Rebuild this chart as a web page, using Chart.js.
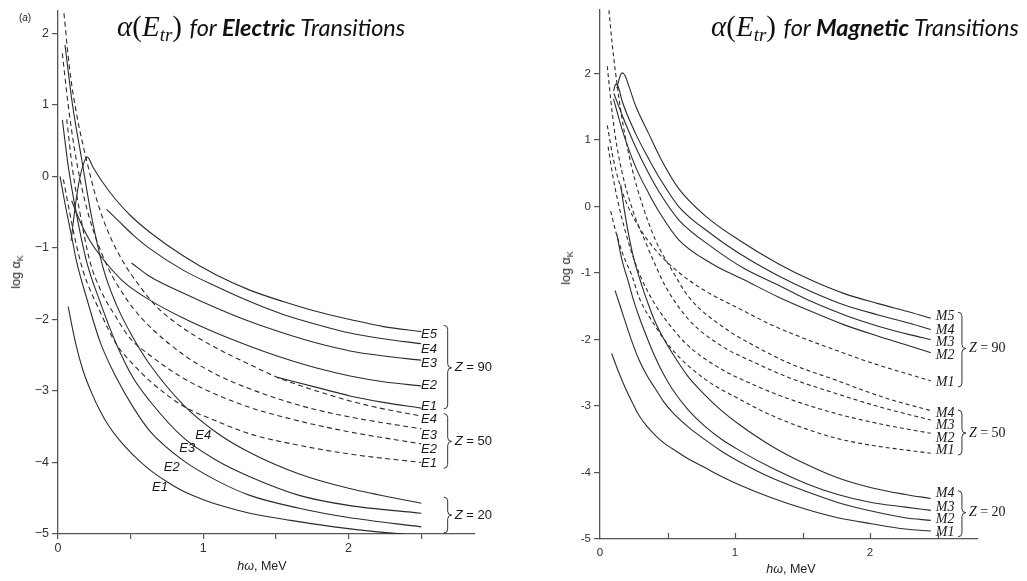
<!DOCTYPE html>
<html><head><meta charset="utf-8">
<script src="https://cdn.jsdelivr.net/npm/chart.js@4.4.1/dist/chart.umd.min.js"></script>
<style>
html,body{margin:0;padding:0;background:#fff;width:1027px;height:581px;overflow:hidden;position:relative;}
#lw{position:absolute;left:0;top:0;width:520px;height:581px;}
#rw{position:absolute;left:530px;top:0;width:497px;height:581px;}
.title{position:absolute;white-space:nowrap;font-family:Lato,'Open Sans',sans-serif;font-style:italic;font-size:23.5px;line-height:32px;color:#111;}
.math{font-family:'Liberation Serif','DejaVu Serif',serif;font-size:29px;font-style:italic;margin-right:2px;}
.math .up{font-style:normal;}
.math sub{font-size:19px;vertical-align:-5px;line-height:0;}
.axt{position:absolute;white-space:nowrap;font-family:'Liberation Sans',Arial,sans-serif;font-size:12.5px;color:#222;}
.axt sub{font-size:9px;vertical-align:-3px;line-height:0;}
.rot{transform:translate(-50%,-50%) rotate(-90deg);}
.ctr{transform:translate(-50%,-50%);}
</style></head>
<body>
<div id="lw"><canvas id="cl" width="520" height="581"></canvas></div>
<div id="rw"><canvas id="cr" width="497" height="581"></canvas></div>
<div class="title" style="left:117px;top:10px"><span class="math">α<span class="up">(</span>E<sub>tr</sub><span class="up">)</span></span> for <b>Electric</b> Transitions</div>
<div class="title" style="left:711px;top:10px"><span class="math">α<span class="up">(</span>E<sub>tr</sub><span class="up">)</span></span> for <b>Magnetic</b> Transitions</div>
<div class="axt ctr" style="left:25px;top:17px;font-size:10px">(<i>a</i>)</div>
<div class="axt rot" style="left:16px;top:272px">log α<sub>K</sub></div>
<div class="axt rot" style="left:566px;top:268px">log α<sub>K</sub></div>
<div class="axt ctr" style="left:262px;top:566px"><i>hω</i>, MeV</div>
<div class="axt ctr" style="left:791px;top:569px"><i>hω</i>, MeV</div>
<script>
// ---------- Electric transitions (left panel): [hω MeV, log αK] ----------
const eZ90E5 = [[0.09,-0.9],[0.12,-0.4],[0.15,-0.02],[0.18,0.2],[0.202,0.27],[0.243,0.12],[0.3,-0.06],[0.4,-0.33],[0.5,-0.55],[0.632,-0.78],[0.861,-1.11],[1.09,-1.38],[1.32,-1.59],[1.55,-1.75],[1.78,-1.89],[2.01,-2.0],[2.24,-2.1],[2.5,-2.17]];
const eZ90E4 = [[0.335,-0.46],[0.42,-0.63],[0.518,-0.82],[0.632,-1.01],[0.861,-1.31],[1.09,-1.54],[1.32,-1.75],[1.55,-1.93],[1.78,-2.07],[2.01,-2.19],[2.24,-2.27],[2.5,-2.34]];
const eZ90E3 = [[0.506,-1.21],[0.632,-1.40],[0.861,-1.63],[1.09,-1.84],[1.32,-2.03],[1.55,-2.19],[1.78,-2.33],[2.01,-2.44],[2.24,-2.51],[2.5,-2.57]];
const eZ90E2 = [[0.094,-0.34],[0.15,-0.62],[0.22,-0.9],[0.323,-1.19],[0.45,-1.47],[0.632,-1.73],[0.861,-1.98],[1.09,-2.19],[1.32,-2.375],[1.55,-2.54],[1.78,-2.68],[2.01,-2.79],[2.24,-2.87],[2.5,-2.93]];
const eZ90E1 = [[1.51,-2.81],[1.78,-2.95],[2.01,-3.07],[2.24,-3.16],[2.5,-3.24]];
const eZ50E4 = [[0.041,2.28],[0.08,1.5],[0.13,0.85],[0.2,0.2],[0.27,-0.35],[0.35,-0.8],[0.45,-1.2],[0.55,-1.5],[0.678,-1.82],[0.861,-2.12],[1.09,-2.4],[1.32,-2.63],[1.51,-2.81],[1.78,-3.0],[2.01,-3.14],[2.24,-3.25],[2.5,-3.35]];
const eZ50E3 = [[0.03,1.72],[0.07,1.0],[0.12,0.3],[0.18,-0.3],[0.25,-0.8],[0.35,-1.3],[0.45,-1.65],[0.52,-1.85],[0.632,-2.1],[0.861,-2.49],[1.09,-2.77],[1.32,-2.97],[1.66,-3.2],[2.0,-3.36],[2.5,-3.53]];
const eZ50E2 = [[0.06,0.8],[0.1,0.1],[0.15,-0.5],[0.22,-1.19],[0.289,-1.57],[0.403,-1.98],[0.495,-2.26],[0.632,-2.5],[0.861,-2.82],[1.09,-3.05],[1.32,-3.23],[1.66,-3.42],[2.0,-3.57],[2.5,-3.74]];
const eZ50E1 = [[0.037,-0.04],[0.08,-0.5],[0.12,-0.9],[0.174,-1.33],[0.289,-1.89],[0.403,-2.35],[0.518,-2.63],[0.632,-2.86],[0.861,-3.21],[1.09,-3.42],[1.32,-3.6],[1.66,-3.76],[2.0,-3.88],[2.5,-4.0]];
const eZ20E4 = [[0.048,1.84],[0.1,1.0],[0.163,0.24],[0.23,-0.55],[0.312,-1.29],[0.403,-1.8],[0.518,-2.26],[0.632,-2.63],[0.861,-3.19],[1.09,-3.58],[1.32,-3.86],[1.66,-4.16],[2.0,-4.36],[2.5,-4.57]];
const eZ20E3 = [[0.03,0.79],[0.07,0.15],[0.12,-0.45],[0.197,-1.19],[0.289,-1.75],[0.403,-2.35],[0.518,-2.82],[0.632,-3.14],[0.861,-3.65],[1.09,-3.97],[1.32,-4.2],[1.66,-4.46],[2.0,-4.6],[2.5,-4.71]];
const eZ20E2 = [[0.014,0.0],[0.05,-0.4],[0.09,-0.8],[0.128,-1.19],[0.197,-1.7],[0.289,-2.31],[0.403,-2.82],[0.518,-3.23],[0.632,-3.56],[0.861,-3.97],[1.09,-4.25],[1.32,-4.46],[1.66,-4.64],[2.0,-4.77],[2.5,-4.9]];
const eZ20E1 = [[0.07,-1.82],[0.12,-2.32],[0.17,-2.7],[0.23,-3.02],[0.29,-3.28],[0.35,-3.49],[0.42,-3.68],[0.52,-3.9],[0.63,-4.1],[0.75,-4.27],[0.86,-4.4],[1.0,-4.52],[1.15,-4.62],[1.32,-4.71],[1.6,-4.81],[1.9,-4.9],[2.2,-4.97],[2.38,-5.0]];

// ---------- Magnetic transitions (right panel) ----------
const mZ90M5 = [[0.125,1.78],[0.15,1.97],[0.165,2.01],[0.185,1.97],[0.214,1.81],[0.263,1.52],[0.36,1.1],[0.45,0.72],[0.583,0.27],[0.78,-0.14],[1.026,-0.5],[1.32,-0.86],[1.567,-1.11],[1.81,-1.31],[2.06,-1.46],[2.3,-1.59],[2.45,-1.68]];
const mZ90M4 = [[0.1,1.74],[0.118,1.84],[0.135,1.8],[0.165,1.58],[0.263,1.1],[0.36,0.72],[0.45,0.4],[0.583,0.0],[0.829,-0.42],[1.075,-0.76],[1.32,-1.04],[1.567,-1.28],[1.81,-1.48],[2.06,-1.63],[2.3,-1.76],[2.45,-1.85]];
const mZ90M3 = [[0.103,1.7],[0.165,1.37],[0.263,0.9],[0.36,0.5],[0.45,0.18],[0.583,-0.2],[0.829,-0.61],[1.075,-0.94],[1.32,-1.18],[1.567,-1.43],[1.81,-1.63],[2.06,-1.8],[2.3,-1.93],[2.45,-2.0]];
const mZ90M2 = [[0.1,1.62],[0.165,1.15],[0.263,0.6],[0.36,0.2],[0.45,-0.12],[0.583,-0.5],[0.829,-0.86],[1.075,-1.11],[1.32,-1.36],[1.567,-1.58],[1.81,-1.78],[2.06,-1.95],[2.3,-2.1],[2.45,-2.2]];
const mZ90M1 = [[0.054,1.22],[0.1,0.7],[0.165,0.22],[0.263,-0.22],[0.41,-0.65],[0.583,-0.99],[0.78,-1.27],[1.026,-1.53],[1.27,-1.78],[1.52,-1.99],[1.76,-2.17],[2.01,-2.35],[2.25,-2.5],[2.45,-2.62]];
const mZ50M4 = [[0.066,2.95],[0.09,2.45],[0.116,2.0],[0.165,1.3],[0.24,0.55],[0.31,0.05],[0.41,-0.5],[0.534,-0.96],[0.657,-1.36],[0.903,-1.8],[1.149,-2.1],[1.395,-2.35],[1.76,-2.62],[2.1,-2.87],[2.45,-3.07]];
const mZ50M3 = [[0.054,2.11],[0.08,1.6],[0.11,1.1],[0.165,0.5],[0.25,-0.1],[0.33,-0.5],[0.41,-0.88],[0.485,-1.2],[0.657,-1.7],[0.903,-2.1],[1.149,-2.35],[1.395,-2.57],[1.76,-2.82],[2.1,-3.03],[2.45,-3.21]];
const mZ50M2 = [[0.06,0.9],[0.1,0.4],[0.165,-0.2],[0.263,-0.86],[0.362,-1.31],[0.485,-1.7],[0.657,-2.1],[0.903,-2.45],[1.149,-2.69],[1.395,-2.89],[1.76,-3.12],[2.1,-3.28],[2.45,-3.41]];
const mZ50M1 = [[0.079,-0.07],[0.12,-0.4],[0.17,-0.72],[0.24,-1.06],[0.288,-1.36],[0.41,-1.8],[0.534,-2.15],[0.78,-2.6],[1.026,-2.89],[1.27,-3.14],[1.52,-3.34],[1.76,-3.49],[2.01,-3.59],[2.45,-3.71]];
const mZ20M4 = [[0.153,0.33],[0.18,-0.05],[0.21,-0.4],[0.25,-0.78],[0.312,-1.2],[0.36,-1.48],[0.41,-1.74],[0.47,-1.98],[0.534,-2.2],[0.65,-2.55],[0.78,-2.84],[0.9,-3.07],[1.026,-3.27],[1.27,-3.6],[1.52,-3.87],[1.76,-4.08],[2.01,-4.23],[2.26,-4.33],[2.45,-4.39]];
const mZ20M3 = [[0.125,-0.42],[0.16,-0.78],[0.214,-1.16],[0.25,-1.42],[0.288,-1.65],[0.35,-1.98],[0.41,-2.27],[0.47,-2.52],[0.534,-2.74],[0.65,-3.05],[0.78,-3.31],[0.9,-3.5],[1.026,-3.66],[1.27,-3.93],[1.52,-4.16],[1.76,-4.33],[2.01,-4.45],[2.26,-4.52],[2.45,-4.57]];
const mZ20M2 = [[0.111,-1.26],[0.15,-1.5],[0.19,-1.75],[0.24,-2.05],[0.288,-2.3],[0.35,-2.55],[0.41,-2.74],[0.47,-2.93],[0.534,-3.09],[0.65,-3.31],[0.78,-3.51],[0.9,-3.68],[1.026,-3.83],[1.27,-4.08],[1.52,-4.28],[1.76,-4.45],[2.01,-4.58],[2.26,-4.68],[2.45,-4.72]];
const mZ20M1 = [[0.086,-2.21],[0.14,-2.5],[0.19,-2.74],[0.24,-2.95],[0.288,-3.14],[0.35,-3.31],[0.41,-3.44],[0.47,-3.55],[0.534,-3.64],[0.65,-3.79],[0.78,-3.93],[0.9,-4.06],[1.026,-4.18],[1.27,-4.38],[1.52,-4.55],[1.76,-4.68],[2.01,-4.77],[2.26,-4.85],[2.45,-4.88]];

// ---------- tick values ----------
const yTicksE = [-5,-4,-3,-2,-1,0,1,2];
const yTicksM = [-5,-4,-3,-2,-1,0,1,2];
const xLabelTicks = [0,1,2];

// ---------- curve labels: [text, x, y] ----------
const eLabels = [['E5',2.553,-2.207],['E4',2.553,-2.416],['E3',2.553,-2.616],['E2',2.553,-2.927],['E1',2.553,-3.219],
  ['E4',2.553,-3.404],['E3',2.553,-3.622],['E2',2.553,-3.817],['E1',2.553,-4.012],
  ['E4',1.0,-3.622],['E3',0.89,-3.807],['E2',0.783,-4.063],['E1',0.702,-4.342]];
const eGroups = [['90',-2.082,-3.251,-2.676],['50',-3.316,-4.082,-3.706],['20',-4.485,-4.986,-4.736]];
const mLabels = [['M5',2.556,-1.645],['M4',2.556,-1.868],['M3',2.556,-2.046],['M2',2.556,-2.239],['M1',2.556,-2.64],
  ['M4',2.556,-3.115],['M3',2.556,-3.293],['M2',2.556,-3.486],['M1',2.556,-3.664],
  ['M4',2.556,-4.317],['M3',2.556,-4.525],['M2',2.556,-4.703],['M1',2.556,-4.896]];
const mGroups = [['90',-1.59,-2.714,-2.135],['50',-3.06,-3.738,-3.407],['20',-4.273,-4.966,-4.604]];

const LINE = '#2b2b2b';
function ds(arr, dashed, dash){
  return {data: arr.map(p=>({x:p[0], y:p[1]})), borderColor: LINE, borderWidth: 1.1,
    borderDash: dashed ? dash : [], pointRadius: 0, fill: false, cubicInterpolationMode: 'monotone'};
}
function brace(ctx, x, yt, yb, ym){
  const w = 4, r = 4;
  ctx.beginPath();
  ctx.moveTo(x - w, yt);
  ctx.quadraticCurveTo(x, yt, x, yt + r);
  ctx.lineTo(x, ym - r);
  ctx.quadraticCurveTo(x, ym, x + w, ym);
  ctx.quadraticCurveTo(x, ym, x, ym + r);
  ctx.lineTo(x, yb - r);
  ctx.quadraticCurveTo(x, yb, x - w, yb);
  ctx.stroke();
}
function annot(id, labels, groups, braceX, labFont, zFontI, zFontN, inwardTicks){
  return {id: 'annot' + id, afterDraw(chart){
    const ctx = chart.ctx, xs = chart.scales.x, ys = chart.scales.y;
    ctx.save();
    ctx.fillStyle = '#1a1a1a'; ctx.strokeStyle = '#333'; ctx.lineWidth = 1;
    ctx.textAlign = 'center'; ctx.textBaseline = 'middle';
    ctx.font = labFont;
    labels.forEach(l => ctx.fillText(l[0], xs.getPixelForValue(l[1]), ys.getPixelForValue(l[2])));
    const bx = xs.getPixelForValue(braceX);
    groups.forEach(g => {
      const yt = ys.getPixelForValue(g[1]), yb = ys.getPixelForValue(g[2]), ym = ys.getPixelForValue(g[3]);
      brace(ctx, bx, yt, yb, ym);
      ctx.textAlign = 'left';
      ctx.font = zFontI;
      const tx = bx + 7;
      ctx.fillText('Z', tx, ym);
      const zw = ctx.measureText('Z').width;
      ctx.font = zFontN;
      ctx.fillText(' = ' + g[0], tx + zw, ym);
    });
    if (inwardTicks){
      ctx.strokeStyle = '#555'; ctx.lineWidth = 1.2;
      const b = chart.chartArea.bottom;
      xs.ticks.forEach(t => { if (t.value > 0){ const px = Math.round(xs.getPixelForValue(t.value)) + 0.5; ctx.beginPath(); ctx.moveTo(px, b); ctx.lineTo(px, b - 6); ctx.stroke(); } });
    }
    ctx.restore();
  }};
}
function minusFmt(v){ return v < 0 ? '\u2212' + Math.abs(v) : String(v); }
function hyphFmt(v){ return v < 0 ? '-' + Math.abs(v) : String(v); }

function makeChart(canvasId, datasets, o){
  return new Chart(document.getElementById(canvasId), {
    type: 'line',
    data: {datasets},
    options: {
      responsive: false, animation: false, events: [],
      layout: {padding: o.pad},
      plugins: {legend: {display: false}, tooltip: {enabled: false}},
      scales: {
        x: {type: 'linear', min: 0, max: o.xmax,
          afterFit: s => { s.height = o.xh; },
          border: {display: true, color: '#555', width: 1.3},
          grid: {display: true, drawOnChartArea: false, drawTicks: !o.inward, tickLength: 5, color: '#555', tickColor: '#555', lineWidth: 1.2},
          ticks: {stepSize: 0.5, includeBounds: false, autoSkip: false, maxRotation: 0,
            callback: v => xLabelTicks.includes(v) ? String(v) : '',
            font: {family: "'Liberation Sans', Arial, sans-serif", size: o.tfs}, color: '#333', padding: o.xpad}},
        y: {type: 'linear', min: -5, max: o.ymax,
          afterFit: s => { s.width = o.yw; },
          afterBuildTicks: s => { s.ticks = o.yt.map(v => ({value: v})); },
          border: {display: true, color: '#555', width: 1.3},
          grid: {display: true, drawOnChartArea: false, drawTicks: true, tickLength: 6, color: '#555', tickColor: '#555', lineWidth: 1.2},
          ticks: {callback: o.fmt, font: {family: "'Liberation Sans', Arial, sans-serif", size: o.tfs}, color: '#333', padding: 3}}
      }
    },
    plugins: [o.plugin]
  });
}

const dashE = [5, 3.5], dashM = [4, 3];
makeChart('cl', [
  ds(eZ90E5), ds(eZ90E4), ds(eZ90E3), ds(eZ90E2), ds(eZ90E1),
  ds(eZ50E4, true, dashE), ds(eZ50E3, true, dashE), ds(eZ50E2, true, dashE), ds(eZ50E1, true, dashE),
  ds(eZ20E4), ds(eZ20E3), ds(eZ20E2), ds(eZ20E1)
], {pad: {left: 0, right: 45, top: 8, bottom: 0}, xmax: 2.87, xh: 47, yw: 58, ymax: 2.32, yt: yTicksE, tfs: 12.5, xpad: 2, fmt: minusFmt, inward: false,
  plugin: annot('L', eLabels, eGroups, 2.682, "italic 13px 'Liberation Sans', Arial, sans-serif", "italic 13px 'Liberation Sans', Arial, sans-serif", "13px 'Liberation Sans', Arial, sans-serif", false)});

makeChart('cr', [
  ds(mZ90M5), ds(mZ90M4), ds(mZ90M3), ds(mZ90M2), ds(mZ90M1, true, dashM),
  ds(mZ50M4, true, dashM), ds(mZ50M3, true, dashM), ds(mZ50M2, true, dashM), ds(mZ50M1, true, dashM),
  ds(mZ20M4), ds(mZ20M3), ds(mZ20M2), ds(mZ20M1)
], {pad: {left: 0, right: 49, top: 3, bottom: 0}, xmax: 2.8, xh: 42, yw: 70, ymax: 2.957, yt: yTicksM, tfs: 11.5, xpad: 7, fmt: hyphFmt, inward: true,
  plugin: annot('R', mLabels, mGroups, 2.681, "italic 14px 'Liberation Serif', 'Times New Roman', serif", "italic 14px 'Liberation Serif', serif", "14px 'Liberation Serif', serif", true)});
</script>
</body></html>
